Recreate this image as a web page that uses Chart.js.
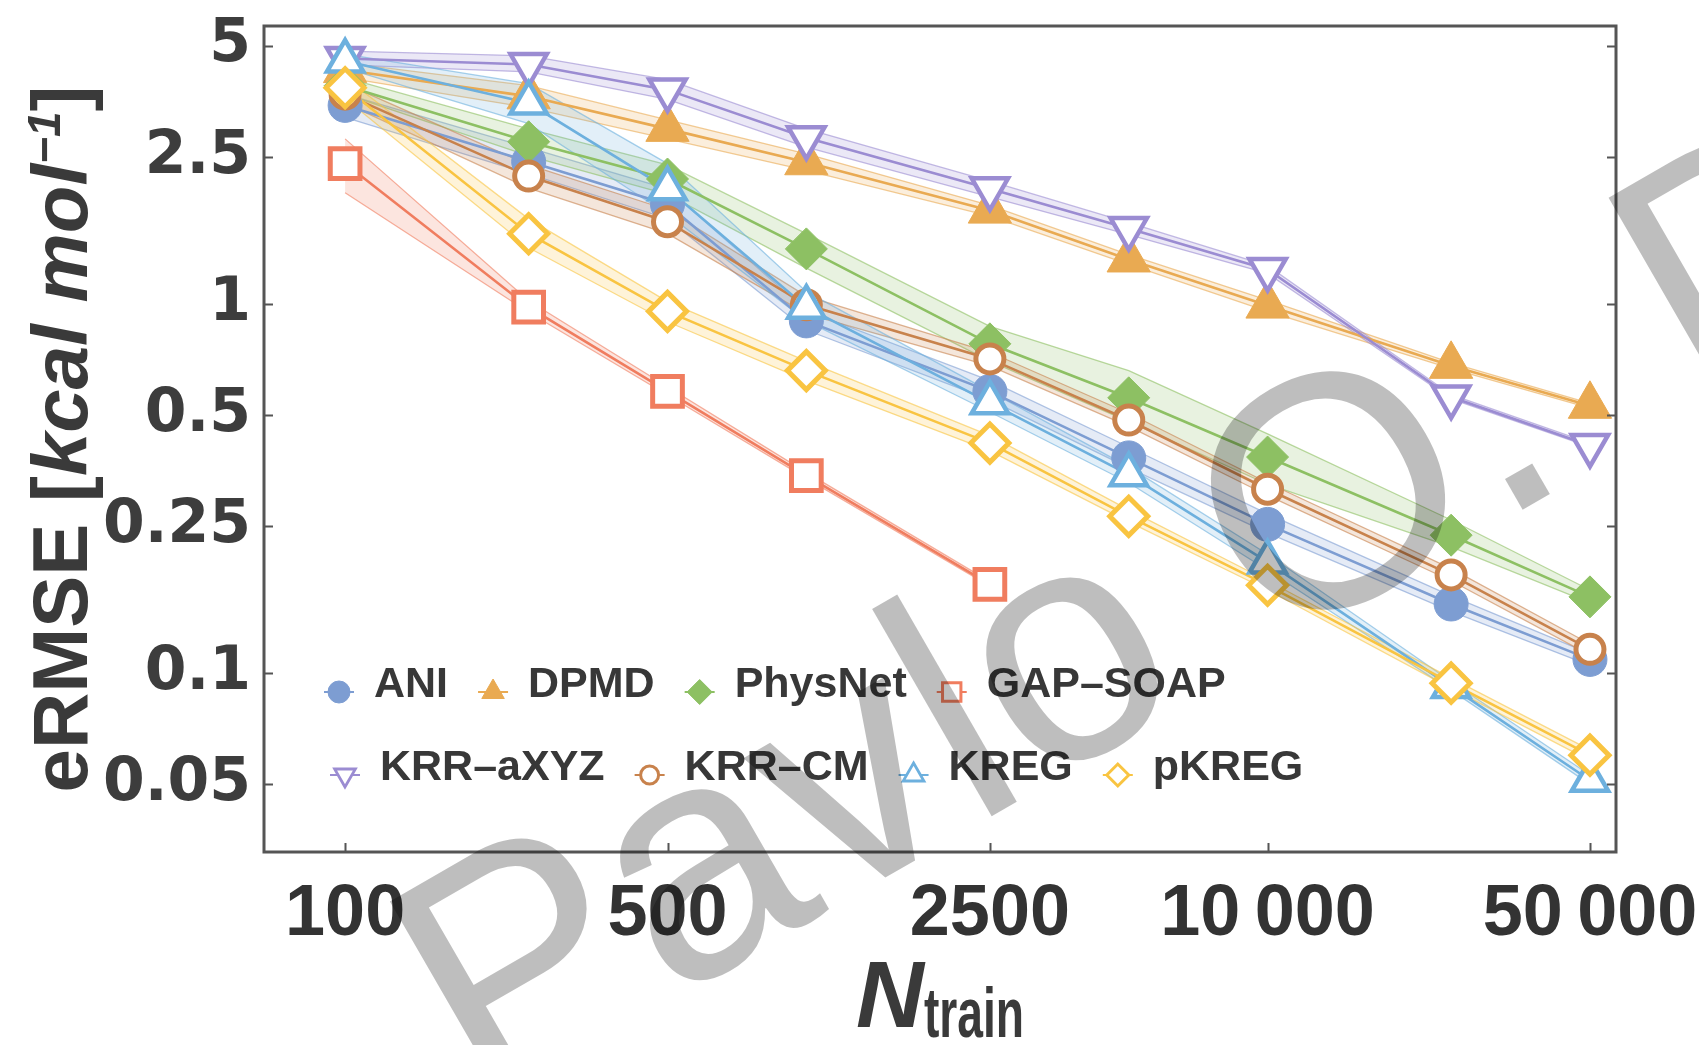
<!DOCTYPE html>
<html>
<head>
<meta charset="utf-8">
<script src="https://cdn.jsdelivr.net/npm/chart.js@4.4.1/dist/chart.umd.min.js"></script>
<style>
  html, body { margin: 0; padding: 0; background: #ffffff; }
  #wrap { width: 1699px; height: 1045px; }
</style>
</head>
<body>
<div id="wrap"><canvas id="c" width="1699" height="1045"></canvas></div>
<script>
// Training-set sizes
const nTrain = [100, 250, 500, 1000, 2500, 5000, 10000, 25000, 50000];

// Axis ticks
const xTicks = [100, 500, 2500, 10000, 50000];
const xTickLabels = ['100', '500', '2500', '10\u2009000', '50\u2009000'];
const yTicks = [0.05, 0.1, 0.25, 0.5, 1, 2.5, 5];
const yTickLabels = ['0.05', '0.1', '0.25', '0.5', '1', '2.5', '5'];

// eRMSE (kcal/mol): mean curve and spread band per method
const aniMean  = [3.45, 2.43, 1.86, 0.90, 0.58, 0.383, 0.253, 0.154, 0.109];
const aniLow   = [3.20, 2.25, 1.70, 0.85, 0.55, 0.360, 0.240, 0.147, 0.105];
const aniHigh  = [3.70, 2.65, 2.05, 0.96, 0.62, 0.410, 0.270, 0.162, 0.113];

const dpmdMean = [4.30, 3.65, 2.98, 2.42, 1.79, 1.32, 0.990, 0.680, 0.530];
const dpmdLow  = [4.10, 3.40, 2.80, 2.30, 1.73, 1.28, 0.955, 0.668, 0.522];
const dpmdHigh = [4.50, 3.90, 3.15, 2.55, 1.85, 1.36, 1.025, 0.693, 0.538];

const physMean = [3.90, 2.75, 2.18, 1.41, 0.78, 0.557, 0.385, 0.2365, 0.161];
const physLow  = [3.70, 2.52, 1.98, 1.25, 0.70, 0.480, 0.325, 0.220, 0.155];
const physHigh = [4.10, 2.98, 2.38, 1.55, 0.87, 0.660, 0.445, 0.260, 0.168];

const gapMean  = [2.40, 0.98, 0.580, 0.343, 0.174];
const gapLow   = [2.00, 0.95, 0.567, 0.337, 0.172];
const gapHigh  = [2.80, 1.02, 0.597, 0.350, 0.177];

const axyzMean = [4.62, 4.45, 3.80, 2.82, 2.05, 1.60, 1.24, 0.560, 0.414];
const axyzLow  = [4.44, 4.25, 3.58, 2.66, 1.95, 1.54, 1.21, 0.553, 0.410];
const axyzHigh = [4.84, 4.70, 4.05, 2.98, 2.15, 1.66, 1.27, 0.568, 0.420];

const cmMean   = [3.70, 2.22, 1.67, 0.995, 0.71, 0.485, 0.315, 0.1846, 0.1161];
const cmLow    = [3.50, 2.06, 1.55, 0.94, 0.68, 0.466, 0.303, 0.178, 0.112];
const cmHigh   = [3.95, 2.38, 1.80, 1.05, 0.74, 0.506, 0.328, 0.192, 0.120];

const kregMean = [4.55, 3.50, 2.05, 0.98, 0.54, 0.345, 0.200, 0.092, 0.0513];
const kregLow  = [4.35, 3.08, 1.75, 0.90, 0.51, 0.328, 0.190, 0.090, 0.050];
const kregHigh = [4.75, 3.95, 2.40, 1.08, 0.58, 0.362, 0.210, 0.095, 0.053];

const pkregMean = [3.85, 1.55, 0.955, 0.66, 0.42, 0.266, 0.173, 0.094, 0.060];
const pkregLow  = [3.60, 1.42, 0.895, 0.62, 0.40, 0.257, 0.168, 0.091, 0.058];
const pkregHigh = [4.10, 1.70, 1.015, 0.70, 0.44, 0.277, 0.178, 0.097, 0.062];

// Series styling (lr/lbw: legend marker radius and outline width)
const series = [
  { label: 'ANI',      mean: aniMean,   low: aniLow,   high: aniHigh,   color: '#7d9dd2', style: 'circle',   rot: 0,   r: 17, bw: 1,   open: false, lr: 11,  lbw: 1 },
  { label: 'DPMD',     mean: dpmdMean,  low: dpmdLow,  high: dpmdHigh,  color: '#e9aa52', style: 'triangle', rot: 0,   r: 25, bw: 1,   open: false, lr: 13,  lbw: 1 },
  { label: 'PhysNet',  mean: physMean,  low: physLow,  high: physHigh,  color: '#8dc063', style: 'rectRot',  rot: 0,   r: 21, bw: 1,   open: false, lr: 12.5, lbw: 1 },
  { label: 'GAP–SOAP', mean: gapMean,   low: gapLow,   high: gapHigh,   color: '#f07d5f', style: 'rect',     rot: 0,   r: 21, bw: 5,   open: true,  lr: 13,  lbw: 3 },
  { label: 'KRR–aXYZ', mean: axyzMean,  low: axyzLow,  high: axyzHigh,  color: '#9b8cd2', style: 'triangle', rot: 180, r: 21, bw: 4.5, open: true,  lr: 12,  lbw: 2.8 },
  { label: 'KRR–CM',   mean: cmMean,    low: cmLow,    high: cmHigh,    color: '#c8824c', style: 'circle',   rot: 0,   r: 14, bw: 5,   open: true,  lr: 9,   lbw: 3 },
  { label: 'KREG',     mean: kregMean,  low: kregLow,  high: kregHigh,  color: '#6db0de', style: 'triangle', rot: 0,   r: 21, bw: 4.5, open: true,  lr: 12,  lbw: 2.8 },
  { label: 'pKREG',    mean: pkregMean, low: pkregLow, high: pkregHigh, color: '#f9c441', style: 'rectRot',  rot: 0,   r: 19, bw: 5,   open: true,  lr: 11,  lbw: 3 }
];

function rgba(hex, a) {
  const v = parseInt(hex.slice(1), 16);
  return `rgba(${(v >> 16) & 255},${(v >> 8) & 255},${v & 255},${a})`;
}
function pts(values) {
  return values.map((y, i) => ({ x: nTrain[i], y }));
}

const datasets = [];
series.forEach((s, k) => {
  // band upper edge
  datasets.push({
    data: pts(s.high), borderColor: rgba(s.color, 0.6), borderWidth: 1.3,
    pointRadius: 0, fill: false, order: 200 - k, tension: 0
  });
  // band lower edge, filled up to the upper edge
  datasets.push({
    data: pts(s.low), borderColor: rgba(s.color, 0.6), borderWidth: 1.3,
    backgroundColor: rgba(s.color, 0.2), pointRadius: 0, fill: '-1', order: 200 - k, tension: 0
  });
  // mean curve
  datasets.push({
    data: pts(s.mean), borderColor: s.color, borderWidth: 2.6,
    pointRadius: 0, fill: false, order: 100 - k, tension: 0
  });
  // markers
  datasets.push({
    label: s.label, data: pts(s.mean), showLine: false, order: 50 - k,
    pointStyle: s.style, pointRotation: s.rot, pointRadius: s.r,
    pointBorderWidth: s.bw, pointBorderColor: s.color,
    pointBackgroundColor: s.open ? '#ffffff' : s.color
  });
});

const FONT = '"Liberation Sans", Arial, Helvetica, sans-serif';

// Box frame with inward tick marks
const framePlugin = {
  id: 'frame',
  afterDatasetsDraw(chart) {
    const { ctx, chartArea: a, scales } = chart;
    ctx.save();
    ctx.strokeStyle = '#555555';
    ctx.lineWidth = 2;
    ctx.beginPath();
    yTicks.forEach(v => {
      const y = Math.round(scales.y.getPixelForValue(v)) + 0.5;
      ctx.moveTo(a.left, y); ctx.lineTo(a.left + 9, y);
      ctx.moveTo(a.right, y); ctx.lineTo(a.right - 9, y);
    });
    xTicks.forEach(v => {
      const x = Math.round(scales.x.getPixelForValue(v)) + 0.5;
      ctx.moveTo(x, a.bottom); ctx.lineTo(x, a.bottom - 9);
    });
    ctx.stroke();
    ctx.lineWidth = 3;
    ctx.strokeRect(a.left, a.top, a.right - a.left, a.bottom - a.top);
    ctx.restore();
  }
};

// Two-row legend inside the plot area
const legendPlugin = {
  id: 'innerLegend',
  afterDatasetsDraw(chart) {
    const ctx = chart.ctx;
    const rows = [
      { x: 339, y: 685, items: series.slice(0, 4) },
      { x: 345, y: 768, items: series.slice(4) }
    ];
    ctx.save();
    ctx.font = `bold 43px ${FONT}`;
    ctx.textBaseline = 'middle';
    rows.forEach(row => {
      let x = row.x;
      row.items.forEach(s => {
        const my = row.y + 7;
        ctx.strokeStyle = s.color;
        ctx.lineWidth = 2;
        ctx.beginPath();
        ctx.moveTo(x - 15, my); ctx.lineTo(x + 15, my);
        ctx.stroke();
        ctx.fillStyle = s.open ? '#ffffff' : s.color;
        ctx.lineWidth = s.lbw;
        Chart.helpers.drawPoint(ctx, {
          pointStyle: s.style, rotation: s.rot, radius: s.lr, borderWidth: s.lbw
        }, x, my);
        ctx.fillStyle = '#383838';
        const tx = x + 35;
        ctx.fillText(s.label, tx, row.y);
        x = tx + ctx.measureText(s.label).width + 45;
      });
    });
    ctx.restore();
  }
};

// Axis titles with italic / sub- and superscript parts
function drawParts(ctx, parts, cx, baseY) {
  let total = 0;
  parts.forEach(p => {
    ctx.font = p.font;
    p.w = ctx.measureText(p.text).width * (p.sx || 1);
    total += p.w;
  });
  let x = cx - total / 2;
  parts.forEach(p => {
    ctx.save();
    ctx.font = p.font;
    ctx.translate(x, baseY + (p.dy || 0));
    ctx.scale(p.sx || 1, 1);
    ctx.fillText(p.text, 0, 0);
    ctx.restore();
    x += p.w;
  });
}

const titlePlugin = {
  id: 'axisTitles',
  afterDraw(chart) {
    const { ctx, chartArea: a } = chart;
    ctx.save();
    ctx.fillStyle = '#3a3a3a';
    ctx.textBaseline = 'alphabetic';
    // x title
    drawParts(ctx, [
      { text: 'N', font: `italic bold 94px ${FONT}` },
      { text: 'train', font: `bold 70px ${FONT}`, sx: 0.66, dy: 10 }
    ], (a.left + a.right) / 2, 1027);
    // y title
    ctx.save();
    ctx.translate(87, (a.top + a.bottom) / 2);
    ctx.rotate(-Math.PI / 2);
    drawParts(ctx, [
      { text: 'eRMSE [', font: `bold 78px ${FONT}` },
      { text: 'kcal mol', font: `italic bold 78px ${FONT}` },
      { text: '\u22121', font: `italic bold 46px ${FONT}`, dy: -27 },
      { text: ']', font: `bold 78px ${FONT}` }
    ], 0, 0);
    ctx.restore();
    ctx.restore();
  }
};

// Author credit across the figure
const creditPlugin = {
  id: 'credit',
  afterDraw(chart) {
    const ctx = chart.ctx;
    const size = 330;
    ctx.save();
    ctx.font = `${size}px ${FONT}`;
    ctx.fillStyle = 'rgba(0,0,0,0.255)';
    ctx.textBaseline = 'alphabetic';
    ctx.translate(1326, 486);
    ctx.rotate(-30 * Math.PI / 180);
    const head = 'Pavlo O.';
    const pre = ctx.measureText('Pavlo ').width;
    const wO = ctx.measureText('O').width;
    const x0 = -(pre + wO / 2);
    const y0 = 0.36 * size;
    ctx.fillText(head, x0, y0);
    const tailX = x0 + ctx.measureText(head + ' ').width + 50;
    ctx.fillText('Dral', tailX, y0);
    ctx.restore();
  }
};

new Chart(document.getElementById('c'), {
  type: 'line',
  data: { datasets },
  options: {
    responsive: false,
    animation: false,
    devicePixelRatio: 1,
    layout: { padding: { top: 20, right: 83, left: 0, bottom: 0 } },
    plugins: { legend: { display: false }, tooltip: { enabled: false } },
    scales: {
      x: {
        type: 'logarithmic', min: 66.7, max: 56940,
        afterBuildTicks: s => { s.ticks = xTicks.map(v => ({ value: v })); },
        afterFit: s => { s.height = 193; s.paddingLeft = 0; s.paddingRight = 0; },
        grid: { display: false, drawTicks: false },
        border: { display: false },
        ticks: {
          autoSkip: false, maxRotation: 0, padding: 20,
          color: '#333333',
          font: { family: FONT, weight: 'bold', size: 72 },
          callback: v => xTickLabels[xTicks.indexOf(v)]
        }
      },
      y: {
        type: 'logarithmic', min: 0.0328, max: 5.66,
        afterBuildTicks: s => { s.ticks = yTicks.map(v => ({ value: v })); },
        afterFit: s => { s.width = 264; s.paddingTop = 0; s.paddingBottom = 0; },
        grid: { display: false, drawTicks: false },
        border: { display: false },
        ticks: {
          autoSkip: false, padding: 13,
          color: '#3d3d3d',
          font: { family: '"DejaVu Sans", sans-serif', weight: 'bold', size: 60 },
          callback: v => yTickLabels[yTicks.indexOf(v)]
        }
      }
    }
  },
  plugins: [framePlugin, legendPlugin, titlePlugin, creditPlugin]
});
</script>
</body>
</html>
